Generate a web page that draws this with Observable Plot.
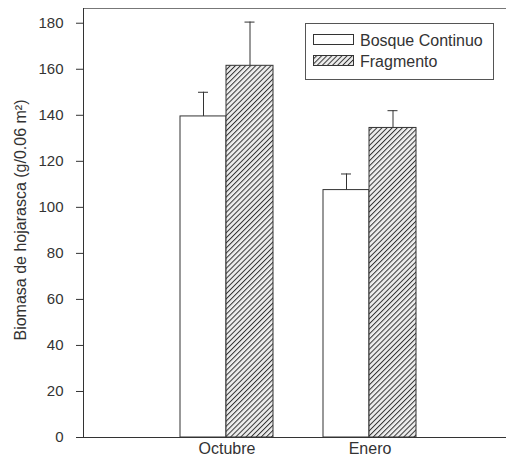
<!DOCTYPE html>
<html>
<head>
<meta charset="utf-8">
<script src="https://cdn.jsdelivr.net/npm/d3@7"></script>
<script src="https://cdn.jsdelivr.net/npm/@observablehq/plot@0.6"></script>
<style>
  html, body { margin: 0; padding: 0; background: #fff; }
  #chart svg { display: block; }
</style>
</head>
<body>
<div id="chart"></div>
<script>
const months = ["Octubre", "Enero"];
const series = ["Bosque Continuo", "Fragmento"];
const bosqueValues = [139.5, 107.5];
const bosqueErrors = [10.5, 7];
const fragmentoValues = [161.5, 134.5];
const fragmentoErrors = [19, 7.5];
const yTicks = [0, 20, 40, 60, 80, 100, 120, 140, 160, 180];
const yLabel = "Biomasa de hojarasca (g/0.06 m²)";

const bosque = months.map((m, i) => ({month: m, value: bosqueValues[i], err: bosqueErrors[i]}));
const fragmento = months.map((m, i) => ({month: m, value: fragmentoValues[i], err: fragmentoErrors[i]}));

const ink = "#333";
const W = 506, H = 458;

const chart = Plot.plot({
  width: W,
  height: H,
  marginLeft: 83,
  marginRight: 0,
  marginTop: 8,
  marginBottom: 21,
  style: {fontFamily: "'Liberation Sans', Arial, sans-serif", color: ink, background: "#fff"},
  x: {domain: months, range: [154.5, 440.5], padding: 0},
  y: {domain: [0, 186.4]},
  marks: [
    Plot.barY(bosque, {x: "month", y: "value", fill: "#fff", stroke: ink, strokeWidth: 1, insetLeft: 25, insetRight: 72}),
    Plot.barY(fragmento, {x: "month", y: "value", fill: "url(#hatch)", stroke: ink, strokeWidth: 1, insetLeft: 71, insetRight: 25}),
    Plot.ruleX(bosque, {x: "month", y1: "value", y2: d => d.value + d.err, dx: -23.5, stroke: ink}),
    Plot.tickY(bosque, {x: "month", y: d => d.value + d.err, dx: -23.5, insetLeft: 66.5, insetRight: 66.5, stroke: ink}),
    Plot.ruleX(fragmento, {x: "month", y1: "value", y2: d => d.value + d.err, dx: 23, stroke: ink}),
    Plot.tickY(fragmento, {x: "month", y: d => d.value + d.err, dx: 23, insetLeft: 66.5, insetRight: 66.5, stroke: ink}),
    Plot.ruleY([186.4], {stroke: "#777"}),
    Plot.ruleY([0], {stroke: ink}),
    Plot.axisY({ticks: yTicks, tickSize: 7, tickPadding: 13, fontSize: 15, stroke: ink, fill: ink, label: null}),
    Plot.axisX({tickSize: 0, tickPadding: 5, fontSize: 16, fill: ink, label: null}),
    Plot.text([yLabel], {frameAnchor: "left", textAnchor: "middle", dx: -63, dy: -3, rotate: -90, fontSize: 16, fill: ink})
  ]
});

const svg = d3.select(chart);
const defs = svg.insert("defs", ":first-child");
const pat = defs.append("pattern")
  .attr("id", "hatch")
  .attr("patternUnits", "userSpaceOnUse")
  .attr("width", 3.6)
  .attr("height", 3.6)
  .attr("patternTransform", "rotate(45)");
pat.append("rect").attr("width", 3.6).attr("height", 3.6).attr("fill", "#eee");
pat.append("line").attr("x1", 0.5).attr("y1", 0).attr("x2", 0.5).attr("y2", 3.6)
  .attr("stroke", "#333").attr("stroke-width", 1);

// left axis line
svg.append("line").attr("x1", 83.5).attr("x2", 83.5).attr("y1", 8).attr("y2", 437.5).attr("stroke", ink);

// legend inside the plot area
const lg = svg.append("g").attr("font-family", "'Liberation Sans', Arial, sans-serif").attr("font-size", 16).attr("fill", ink).attr("text-anchor", "start");
lg.append("rect").attr("x", 305.5).attr("y", 23.5).attr("width", 188).attr("height", 56).attr("fill", "#fff").attr("stroke", "#555");
const fills = ["#fff", "url(#hatch)"];
series.forEach((s, i) => {
  const y = 34.5 + i * 21;
  lg.append("rect").attr("x", 313.5).attr("y", y).attr("width", 40).attr("height", 10).attr("fill", fills[i]).attr("stroke", ink);
  lg.append("text").attr("x", 360).attr("y", y + 11).text(s);
});

document.getElementById("chart").appendChild(chart);
</script>
</body>
</html>
